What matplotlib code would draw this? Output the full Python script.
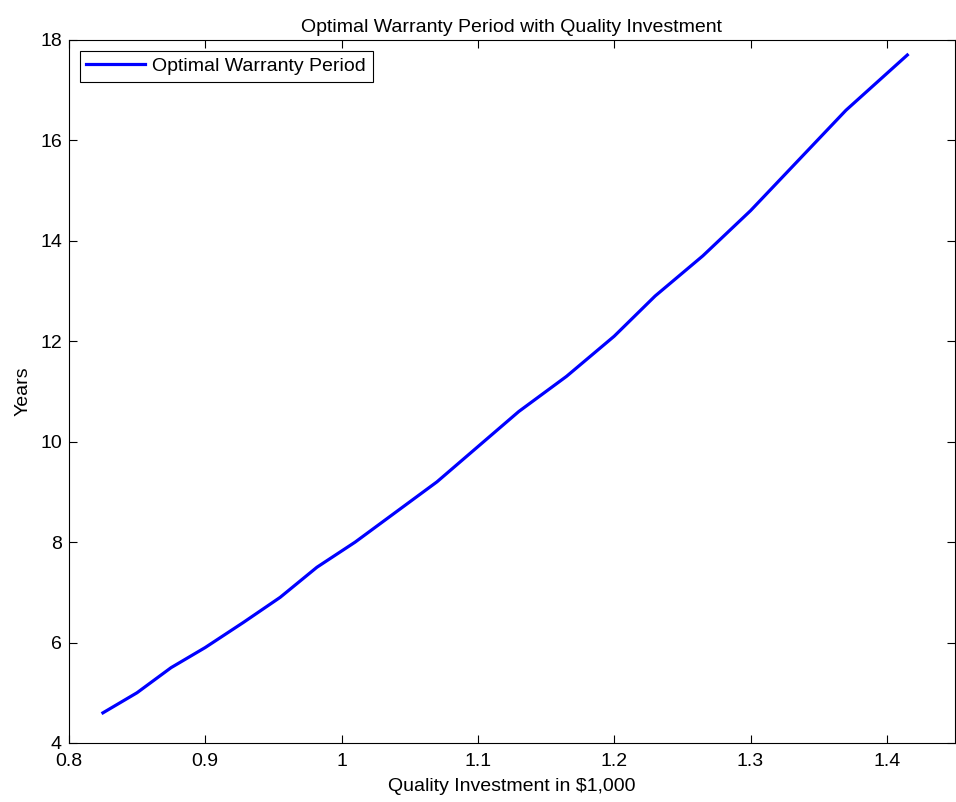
import matplotlib
matplotlib.use('Agg')
import matplotlib.pyplot as plt

# quality investment (in $1,000) vs optimal warranty period (years)
investment = [0.825, 0.85, 0.875, 0.9, 0.928, 0.955, 0.982, 1.01, 1.04, 1.07,
              1.1, 1.13, 1.165, 1.2, 1.23, 1.265, 1.3, 1.335, 1.37, 1.415]
warranty = [4.6, 5.0, 5.5, 5.9, 6.4, 6.9, 7.5, 8.0, 8.6, 9.2,
            9.9, 10.6, 11.3, 12.1, 12.9, 13.7, 14.6, 15.6, 16.6, 17.7]

xticks = [0.8, 0.9, 1.0, 1.1, 1.2, 1.3, 1.4]
xticklabels = ['0.8', '0.9', '1', '1.1', '1.2', '1.3', '1.4']
yticks = [4, 6, 8, 10, 12, 14, 16, 18]

plt.rcParams['font.family'] = ['Liberation Sans', 'DejaVu Sans']

fig = plt.figure(figsize=(9.56, 8.02), dpi=100)
ax = fig.add_axes([0.072, 0.0736, 0.927, 0.8766])

ax.plot(investment, warranty, color='#0000ff', linewidth=2.3, label='Optimal Warranty Period')

ax.set_xlim(0.8, 1.45)
ax.set_ylim(4, 18)
ax.set_xticks(xticks)
ax.set_xticklabels(xticklabels)
ax.set_yticks(yticks)
ax.tick_params(direction='in', top=True, right=True, length=6, width=0.8, labelsize=14)
ax.tick_params(axis='x', pad=7)
ax.tick_params(axis='y', pad=5)
for s in ax.spines.values():
    s.set_linewidth(0.8)

ax.set_title('Optimal Warranty Period with Quality Investment', fontsize=14, pad=6)
ax.set_xlabel('Quality Investment in $1,000', fontsize=14, labelpad=6)
ax.set_ylabel('Years', fontsize=14, labelpad=6)

leg = ax.legend(loc='upper left', fontsize=14, fancybox=False, framealpha=1,
                edgecolor='black', handlelength=3.0, handletextpad=0.4,
                borderaxespad=0.55, borderpad=0.35)
leg.get_frame().set_linewidth(0.8)

fig.savefig('out.png', dpi=100)
